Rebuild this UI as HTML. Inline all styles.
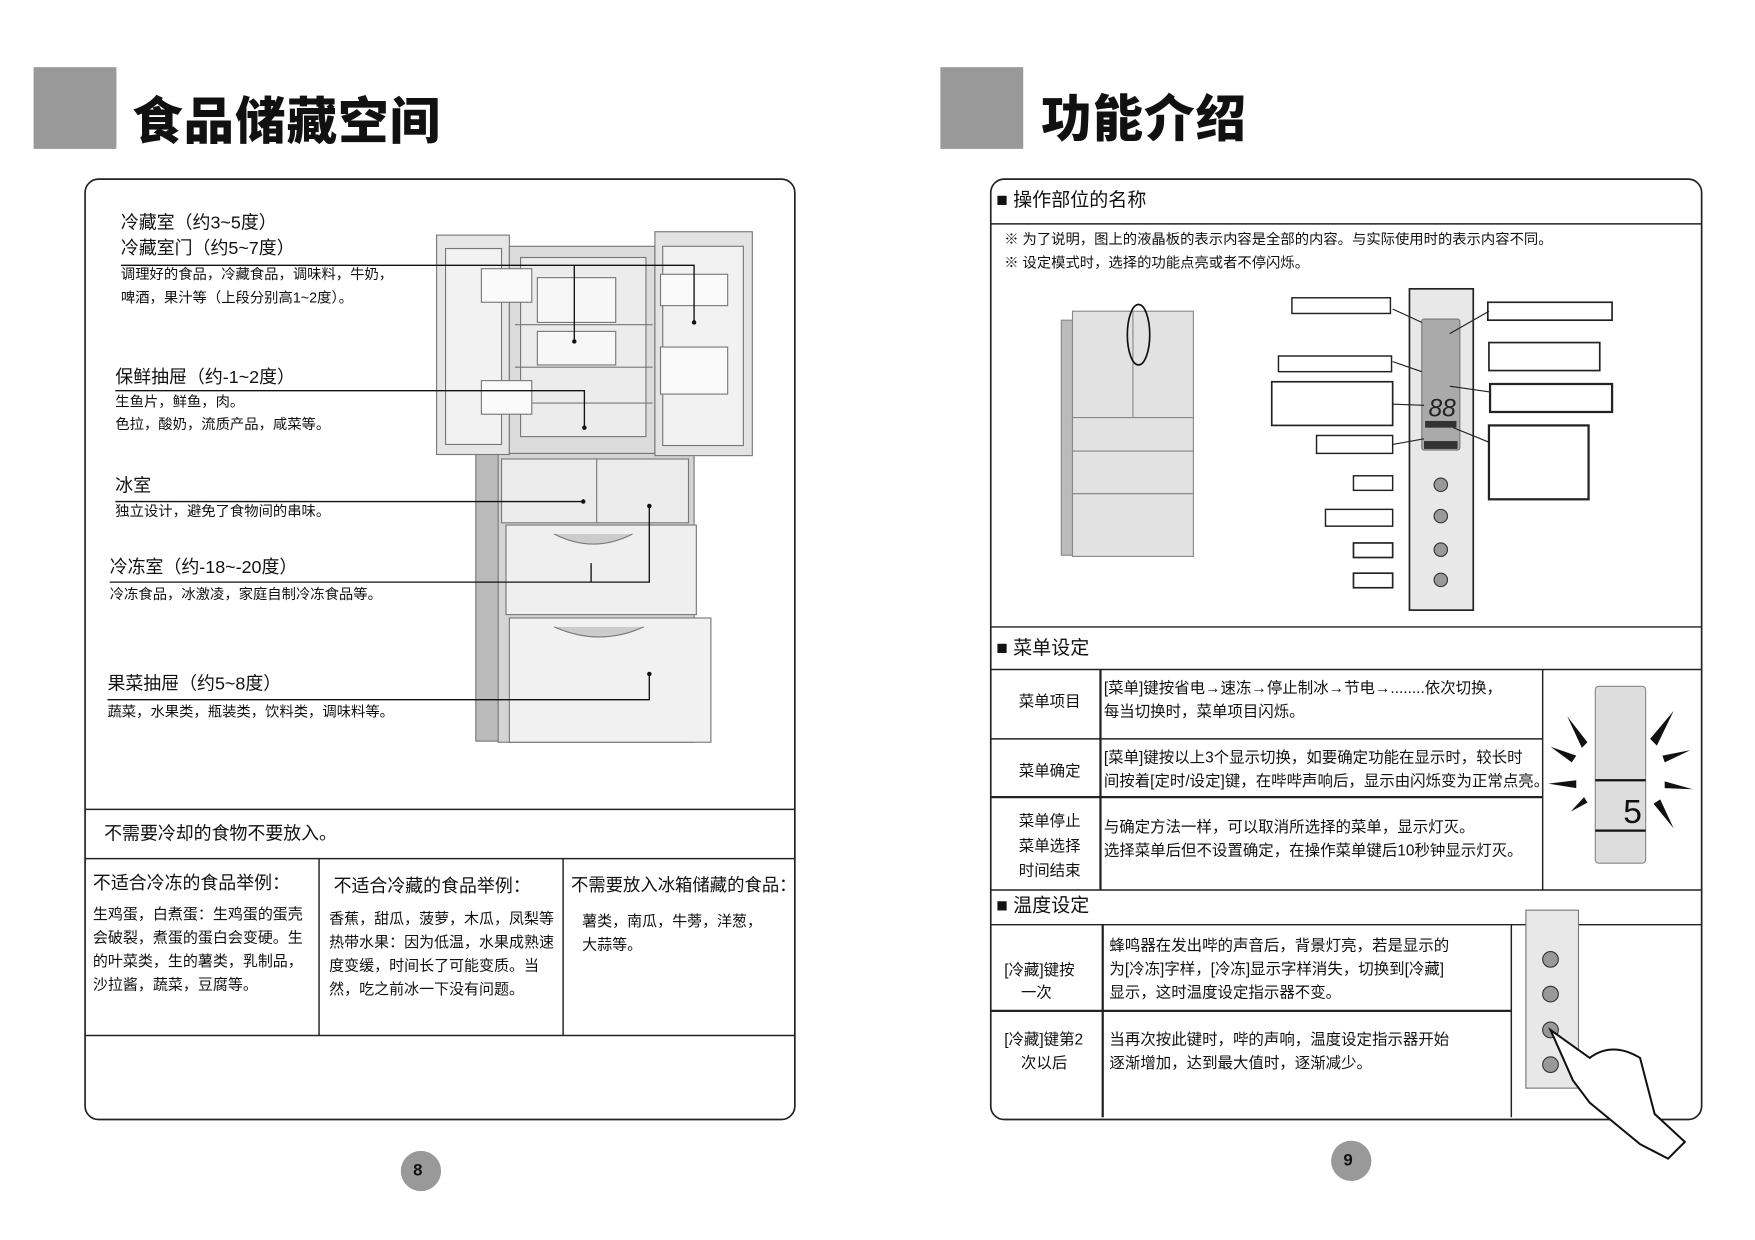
<!DOCTYPE html>
<html><head><meta charset="utf-8"><style>
html,body{margin:0;padding:0;background:#fff;width:1755px;height:1240px;overflow:hidden}
#w{position:absolute;left:0;top:0;width:1568px;height:1108px;transform:scale(1.1195);transform-origin:0 0;font-family:"Liberation Sans","Noto Sans CJK SC",sans-serif;color:#111}
.t{position:absolute;white-space:nowrap;line-height:1}
.s15{font-size:16px}.s12{font-size:12.8px}.s13{font-size:13.8px}.s16{font-size:17px}
.col{font-size:13.4px;line-height:21px;white-space:pre}
svg{position:absolute;left:0;top:0}
</style></head><body><div id="w">
<svg width="1568" height="1108" viewBox="0 0 1568 1108">
<rect x="30" y="60" width="74" height="73" fill="#999"/>
<rect x="840" y="60" width="74" height="73" fill="#999"/>
<rect x="76" y="160" width="634" height="840" rx="12" fill="none" stroke="#222" stroke-width="1.5"/>
<line x1="76" y1="723" x2="710" y2="723" stroke="#222" stroke-width="1.3"/>
<line x1="76" y1="767" x2="710" y2="767" stroke="#222" stroke-width="1.3"/>
<line x1="76" y1="925" x2="710" y2="925" stroke="#222" stroke-width="1.3"/>
<line x1="285" y1="767" x2="285" y2="925" stroke="#222" stroke-width="1.3"/>
<line x1="503" y1="767" x2="503" y2="925" stroke="#222" stroke-width="1.3"/>
<g stroke="#777" stroke-width="1">
<rect x="425" y="400" width="25" height="262" fill="#bbb"/>
<rect x="445" y="405" width="175" height="258" fill="#d4d4d4"/>
<rect x="390" y="210" width="65" height="196" fill="#e6e6e6"/>
<rect x="398" y="222" width="50" height="175" fill="#f2f2f2"/>
<rect x="455" y="220" width="130" height="185" fill="#dcdcdc"/>
<rect x="465" y="230" width="112" height="160" fill="#ececec"/>
<line x1="460" y1="290" x2="583" y2="290"/><line x1="460" y1="328" x2="583" y2="328"/><line x1="460" y1="360" x2="583" y2="360"/>
<rect x="480" y="248" width="70" height="40" fill="#f7f7f7"/>
<rect x="480" y="296" width="70" height="30" fill="#f7f7f7"/>
<rect x="585" y="207" width="87" height="200" fill="#e3e3e3"/>
<rect x="592" y="220" width="72" height="178" fill="#f2f2f2"/>
<rect x="590" y="245" width="60" height="28" fill="#fafafa"/>
<rect x="590" y="310" width="60" height="42" fill="#fafafa"/>
<rect x="430" y="240" width="45" height="30" fill="#fafafa"/>
<rect x="430" y="340" width="45" height="30" fill="#fafafa"/>
<rect x="448" y="410" width="167" height="57" fill="#ececec"/>
<line x1="533" y1="410" x2="533" y2="467"/>
<rect x="452" y="469" width="170" height="80" fill="#efefef"/>
<path d="M495 477 Q530 495 565 477" fill="#ccc"/>
<rect x="455" y="552" width="180" height="111" fill="#f1f1f1"/>
<path d="M495 560 Q535 578 575 560" fill="#ccc"/>
</g>
<g stroke="#111" stroke-width="1.2" fill="none">
<polyline points="108,237 620,237 620,288"/><line x1="513" y1="237" x2="513" y2="305"/>
<polyline points="103,349 522,349 522,382"/>
<line x1="103" y1="448" x2="521" y2="448"/>
<polyline points="98,520 580,520 580,452"/><line x1="528" y1="503" x2="528" y2="520"/>
<polyline points="96,625 580,625 580,602"/>
</g>
<g fill="#111"><circle cx="620" cy="288" r="2"/><circle cx="513" cy="305" r="2"/><circle cx="522" cy="382" r="2"/><circle cx="521" cy="448" r="2"/><circle cx="580" cy="452" r="2"/><circle cx="580" cy="602" r="2"/></g>
<circle cx="376" cy="1046" r="18" fill="#999"/>
<circle cx="1207" cy="1037" r="18" fill="#999"/>
<rect x="885" y="160" width="635" height="840" rx="12" fill="none" stroke="#222" stroke-width="1.5"/>
<g stroke="#222" stroke-width="1.3">
<line x1="885" y1="200" x2="1520" y2="200"/>
<line x1="885" y1="560" x2="1520" y2="560"/>
<line x1="885" y1="598" x2="1520" y2="598"/>
<line x1="885" y1="660" x2="1378" y2="660"/>
<line x1="885" y1="712" x2="1378" y2="712" stroke-width="2"/>
<line x1="885" y1="795" x2="1520" y2="795"/>
<line x1="885" y1="826" x2="1520" y2="826"/>
<line x1="885" y1="903" x2="1350" y2="903" stroke-width="2"/>
<line x1="983" y1="598" x2="983" y2="795" stroke-width="2"/>
<line x1="1378" y1="598" x2="1378" y2="795"/>
<line x1="985" y1="826" x2="985" y2="998" stroke-width="2"/>
<line x1="1350" y1="826" x2="1350" y2="998"/>
</g>
<g stroke="#888" fill="#e2e2e2">
<rect x="948" y="286" width="12" height="210" fill="#bbb"/>
<rect x="958" y="278" width="108" height="95"/>
<line x1="1012" y1="278" x2="1012" y2="373"/>
<rect x="958" y="373" width="108" height="30"/>
<rect x="958" y="403" width="108" height="38"/>
<rect x="958" y="441" width="108" height="56"/>
</g>
<ellipse cx="1017" cy="299" rx="10" ry="27" fill="none" stroke="#111" stroke-width="1.5"/>
<rect x="1259" y="258" width="57" height="287" fill="#e8e8e8" stroke="#222" stroke-width="1.5"/>
<rect x="1270" y="285" width="34" height="117" rx="2" fill="#aaa" stroke="#777"/>
<text x="1276" y="372" font-size="22" font-family="Liberation Sans" font-style="italic" fill="#222">88</text>
<rect x="1273" y="376" width="28" height="6" fill="#333"/><rect x="1272" y="394" width="30" height="7" fill="#333"/>
<g fill="#999" stroke="#333"><circle cx="1287" cy="433" r="6"/><circle cx="1287" cy="461" r="6"/><circle cx="1287" cy="491" r="6"/><circle cx="1287" cy="518" r="6"/></g>
<g fill="none" stroke="#222" stroke-width="1">
<rect x="1154" y="266" width="88" height="14" stroke-width="1.3"/>
<rect x="1329" y="270" width="111" height="16" stroke-width="1.5"/>
<rect x="1142" y="318" width="101" height="14" stroke-width="1.3"/>
<rect x="1330" y="306" width="99" height="25" stroke-width="1.5"/>
<rect x="1136" y="341" width="108" height="39" stroke-width="1.5"/>
<rect x="1331" y="343" width="109" height="25" stroke-width="2"/>
<rect x="1176" y="389" width="68" height="16" stroke-width="1.3"/>
<rect x="1330" y="380" width="89" height="66" stroke-width="2"/>
<rect x="1209" y="425" width="35" height="13" stroke-width="1.3"/>
<rect x="1184" y="455" width="60" height="15" stroke-width="1.3"/>
<rect x="1209" y="485" width="35" height="13" stroke-width="1.5"/>
<rect x="1209" y="512" width="35" height="13" stroke-width="1.5"/>
<line x1="1244" y1="276" x2="1270" y2="288"/><line x1="1330" y1="278" x2="1295" y2="298"/>
<line x1="1244" y1="323" x2="1270" y2="332"/><line x1="1244" y1="361" x2="1272" y2="362"/>
<line x1="1244" y1="397" x2="1272" y2="392"/><line x1="1330" y1="350" x2="1295" y2="345"/>
<line x1="1330" y1="395" x2="1298" y2="382"/>
</g>
<rect x="1425" y="613" width="45" height="158" rx="3" fill="#ddd" stroke="#888"/>
<line x1="1425" y1="697" x2="1470" y2="697" stroke="#111" stroke-width="2"/>
<line x1="1425" y1="742" x2="1470" y2="742" stroke="#111" stroke-width="2"/>
<text x="1450" y="735" font-size="30" fill="#111">5</text>
<g fill="#111">
<polygon points="1400,640 1418,663 1413,668"/><polygon points="1495,635 1480,666 1474,660"/>
<polygon points="1385,667 1408,675 1404,681"/><polygon points="1510,670 1487,681 1485,675"/>
<polygon points="1383,700 1408,697 1408,704"/><polygon points="1512,705 1487,698 1487,704"/>
<polygon points="1403,725 1415,712 1418,717"/><polygon points="1495,740 1477,718 1483,714"/>
</g>
<rect x="1363" y="813" width="47" height="159" fill="#e8e8e8" stroke="#777"/>
<g fill="#999" stroke="#333"><circle cx="1385" cy="857" r="7"/><circle cx="1385" cy="888" r="7"/><circle cx="1385" cy="920" r="7"/><circle cx="1385" cy="951" r="7"/></g>
<path d="M1385 920 L1420 945 Q1440 930 1465 945 L1478 995 L1505 1020 L1490 1035 L1465 1022 L1420 985 L1405 965 Z" fill="#fff" stroke="#111" stroke-width="1.8"/>
</svg>
<div class="t" style="left:118px;top:86px;font-size:45px;font-weight:900;letter-spacing:1px">食品储藏空间</div>
<div class="t" style="left:930px;top:84px;font-size:45px;font-weight:900;letter-spacing:1px">功能介绍</div>
<div class="t s15" style="left:108px;top:192px">冷藏室（约3~5度）</div>
<div class="t s15" style="left:108px;top:215px">冷藏室门（约5~7度）</div>
<div class="t s12" style="left:108px;top:239px">调理好的食品，冷藏食品，调味料，牛奶，</div>
<div class="t s12" style="left:108px;top:260px">啤酒，果汁等（上段分别高1~2度）。</div>
<div class="t s15" style="left:103px;top:330px">保鲜抽屉（约-1~2度）</div>
<div class="t s12" style="left:103px;top:353px">生鱼片，鲜鱼，肉。</div>
<div class="t s12" style="left:103px;top:373px">色拉，酸奶，流质产品，咸菜等。</div>
<div class="t s15" style="left:103px;top:427px">冰室</div>
<div class="t s12" style="left:103px;top:451px">独立设计，避免了食物间的串味。</div>
<div class="t s15" style="left:98px;top:500px">冷冻室（约-18~-20度）</div>
<div class="t s12" style="left:98px;top:525px">冷冻食品，冰激凌，家庭自制冷冻食品等。</div>
<div class="t s15" style="left:96px;top:604px">果菜抽屉（约5~8度）</div>
<div class="t s12" style="left:96px;top:630px">蔬菜，水果类，瓶装类，饮料类，调味料等。</div>
<div class="t s15" style="left:93px;top:738px">不需要冷却的食物不要放入。</div>
<div class="t s15" style="left:83px;top:782px">不适合冷冻的食品举例：</div>
<div class="t s15" style="left:298px;top:785px">不适合冷藏的食品举例：</div>
<div class="t s15" style="left:510px;top:784px;font-size:15.5px">不需要放入冰箱储藏的食品：</div>
<div class="t col" style="left:83px;top:806px">生鸡蛋，白煮蛋：生鸡蛋的蛋壳
会破裂，煮蛋的蛋白会变硬。生
的叶菜类，生的薯类，乳制品，
沙拉酱，蔬菜，豆腐等。</div>
<div class="t col" style="left:294px;top:810px">香蕉，甜瓜，菠萝，木瓜，凤梨等
热带水果：因为低温，水果成熟速
度变缓，时间长了可能变质。当
然，吃之前冰一下没有问题。</div>
<div class="t col" style="left:520px;top:812px">薯类，南瓜，牛蒡，洋葱，
大蒜等。</div>
<div class="t" style="left:369px;top:1038px;font-size:15px;font-weight:bold">8</div>
<div class="t" style="left:1200px;top:1029px;font-size:15px;font-weight:bold">9</div>
<div class="t s16" style="left:890px;top:170px">■ 操作部位的名称</div>
<div class="t s12" style="left:897px;top:208px">※ 为了说明，图上的液晶板的表示内容是全部的内容。与实际使用时的表示内容不同。</div>
<div class="t s12" style="left:897px;top:229px">※ 设定模式时，选择的功能点亮或者不停闪烁。</div>
<div class="t s16" style="left:890px;top:570px">■ 菜单设定</div>
<div class="t s13" style="left:910px;top:620px">菜单项目</div>
<div class="t s13" style="left:910px;top:682px">菜单确定</div>
<div class="t s13" style="left:910px;top:723px;line-height:22px;white-space:normal;width:60px">菜单停止菜单选择时间结束</div>
<div class="t s13" style="left:986px;top:608px">[菜单]键按省电→速冻→停止制冰→节电→........依次切换，</div>
<div class="t s13" style="left:986px;top:629px">每当切换时，菜单项目闪烁。</div>
<div class="t s13" style="left:986px;top:670px">[菜单]键按以上3个显示切换，如要确定功能在显示时，较长时</div>
<div class="t s13" style="left:986px;top:691px">间按着[定时/设定]键，在哔哔声响后，显示由闪烁变为正常点亮。</div>
<div class="t s13" style="left:986px;top:732px">与确定方法一样，可以取消所选择的菜单，显示灯灭。</div>
<div class="t s13" style="left:986px;top:753px">选择菜单后但不设置确定，在操作菜单键后10秒钟显示灯灭。</div>
<div class="t s16" style="left:890px;top:800px">■ 温度设定</div>
<div class="t s13" style="left:897px;top:860px">[冷藏]键按</div>
<div class="t s13" style="left:912px;top:880px">一次</div>
<div class="t s13" style="left:897px;top:922px">[冷藏]键第2</div>
<div class="t s13" style="left:912px;top:943px">次以后</div>
<div class="t s13" style="left:991px;top:838px">蜂鸣器在发出哔的声音后，背景灯亮，若是显示的</div>
<div class="t s13" style="left:991px;top:859px">为[冷冻]字样，[冷冻]显示字样消失，切换到[冷藏]</div>
<div class="t s13" style="left:991px;top:880px">显示，这时温度设定指示器不变。</div>
<div class="t s13" style="left:991px;top:922px">当再次按此键时，哔的声响，温度设定指示器开始</div>
<div class="t s13" style="left:991px;top:943px">逐渐增加，达到最大值时，逐渐减少。</div>
</div></body></html>
